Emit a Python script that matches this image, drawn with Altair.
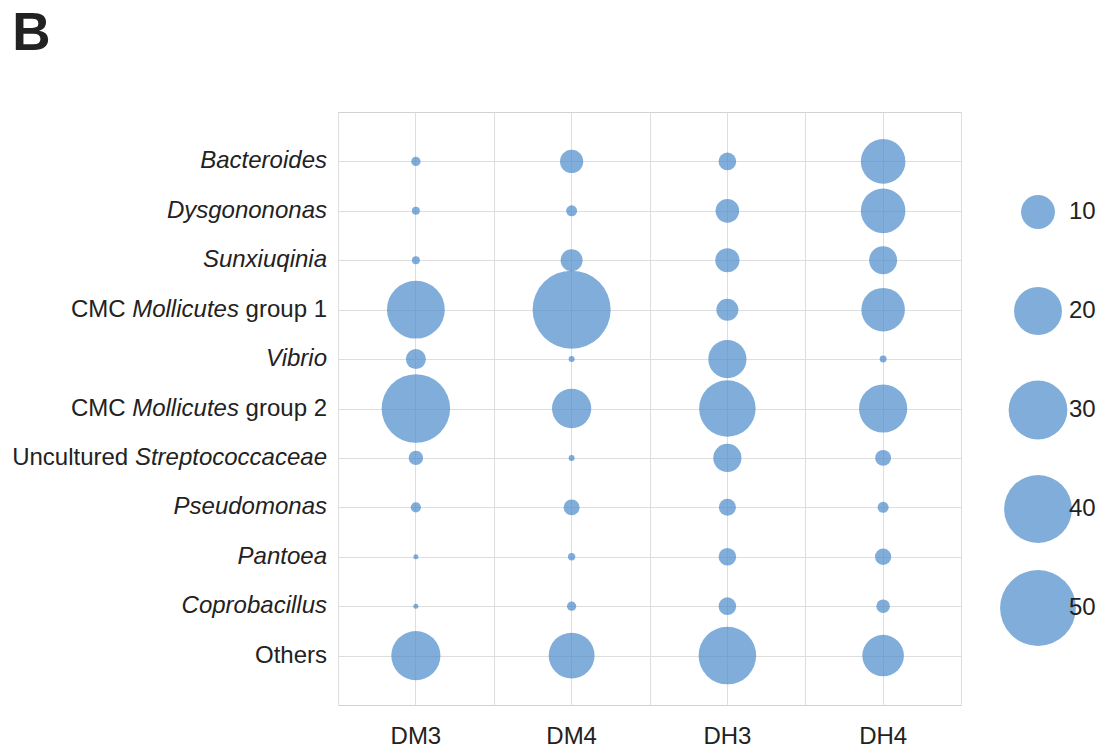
import altair as alt
import pandas as pd

FONT = "Liberation Sans"
TEXT = "#222222"
GRID = "#dedede"
BUBBLE = "#4a8ac9"

samples = ["DM3", "DM4", "DH3", "DH4"]
taxa = [
    "Bacteroides",
    "Dysgonononas",
    "Sunxiuqinia",
    "CMC Mollicutes group 1",
    "Vibrio",
    "CMC Mollicutes group 2",
    "Uncultured Streptococcaceae",
    "Pseudomonas",
    "Pantoea",
    "Coprobacillus",
    "Others",
]
dm3 = [0.75, 0.55, 0.55, 29.1, 3.5, 40.8, 1.8, 0.9, 0.22, 0.22, 21.0]
dm4 = [4.7, 1.05, 4.2, 53.0, 0.31, 13.4, 0.31, 2.2, 0.46, 0.75, 18.3]
dh3 = [2.7, 4.85, 5.1, 4.2, 12.7, 27.8, 6.9, 2.5, 2.7, 2.7, 28.8]
dh4 = [17.3, 17.3, 6.8, 16.5, 0.42, 20.2, 2.2, 1.05, 2.3, 1.6, 15.0]
legend_values = [10, 20, 30, 40, 50]

# label pieces: (text, italic)
label_parts = {
    "Bacteroides": [("Bacteroides", True)],
    "Dysgonononas": [("Dysgonononas", True)],
    "Sunxiuqinia": [("Sunxiuqinia", True)],
    "CMC Mollicutes group 1": [("CMC", False), ("Mollicutes", True), ("group 1", False)],
    "Vibrio": [("Vibrio", True)],
    "CMC Mollicutes group 2": [("CMC", False), ("Mollicutes", True), ("group 2", False)],
    "Uncultured Streptococcaceae": [("Uncultured", False), ("Streptococcaceae", True)],
    "Pseudomonas": [("Pseudomonas", True)],
    "Pantoea": [("Pantoea", True)],
    "Coprobacillus": [("Coprobacillus", True)],
    "Others": [("Others", False)],
}

# Arial / Liberation Sans advance widths (1/1000 em) for laying out mixed-style labels
ADV = {
    " ": 278, "1": 556, "2": 556, "g": 556, "r": 333, "o": 556, "u": 556, "p": 556,
    "C": 722, "M": 833, "l": 222, "i": 222, "c": 500, "t": 278, "e": 556, "s": 500,
    "S": 667, "a": 556, "U": 722, "n": 556, "d": 556,
}
LABEL_SIZE = 24
LABEL_PAD = 11


def text_width(s):
    return sum(ADV.get(ch, 556) for ch in s) * LABEL_SIZE / 1000.0


rows = []
for taxon in taxa:
    edge = -LABEL_PAD
    for txt, ital in reversed(label_parts[taxon]):
        rows.append({"taxon": taxon, "text": txt, "italic": ital, "edge": round(edge, 1)})
        edge -= text_width(txt) + text_width(" ")
labels_df = pd.DataFrame(rows)

records = []
for s, vals in zip(samples, [dm3, dm4, dh3, dh4]):
    for t, v in zip(taxa, vals):
        records.append({"sample": s, "taxon": t, "value": v})
df = pd.DataFrame(records)

Y = alt.Y(
    "taxon:N",
    sort=taxa,
    scale=alt.Scale(type="point", padding=1),
    axis=alt.Axis(title=None, labels=False, ticks=False, domain=False, grid=True, gridColor=GRID),
)

bubbles = alt.Chart(df).mark_circle(color=BUBBLE, opacity=0.7).encode(
    x=alt.X(
        "sample:N",
        sort=samples,
        scale=alt.Scale(type="band", paddingInner=0, paddingOuter=0),
        axis=alt.Axis(
            title=None, labelAngle=0, labelFontSize=24, labelFont=FONT, labelColor=TEXT,
            labelPadding=19, ticks=False, domain=False, grid=True, gridColor=GRID,
        ),
    ),
    y=Y,
    size=alt.Size(
        "value:Q",
        scale=alt.Scale(domain=[0, 50], range=[0, 5750]),
        legend=alt.Legend(
            title=None, values=legend_values, orient="none", legendX=662, legendY=62,
            direction="vertical", gridAlign="all", rowPadding=23, clipHeight=76,
            symbolType="circle", symbolFillColor=BUBBLE, symbolOpacity=0.7,
            symbolStrokeWidth=0, labelFontSize=24, labelFont=FONT, labelColor=TEXT,
            labelOffset={"expr": "-7"}, padding=0,
        ),
    ),
)

edge_grid = alt.Chart(df).mark_circle(opacity=0).encode(
    x=alt.X(
        "sample:N",
        sort=samples,
        axis=alt.Axis(
            title=None, orient="top", tickBand="extent", labels=False, ticks=False,
            domain=False, grid=True, gridColor=GRID,
        ),
    ),
    y=Y,
)

layers = [edge_grid, bubbles]
for (edge, ital), sub in labels_df.groupby(["edge", "italic"]):
    layers.append(
        alt.Chart(sub).mark_text(
            align="right", baseline="middle", fontSize=LABEL_SIZE, font=FONT,
            fontStyle="italic" if ital else "normal", color=TEXT,
        ).encode(y=Y, x=alt.value(float(edge)), text="text:N")
    )

chart = (
    alt.layer(*layers)
    .resolve_axis(x="independent")
    .properties(
        width=623,
        height=593,
        padding={"left": 4, "top": 0, "right": 0, "bottom": 0},
        title=alt.TitleParams(
            "B", anchor="start", frame="bounds", fontSize=53, fontWeight="bold",
            font=FONT, color=TEXT, offset=50, dx=0, dy=-1,
        ),
    )
    .configure_view(stroke="#d2d2d2", strokeWidth=1)
)

chart.save("out.html", embed_options={"renderer": "svg", "actions": False})
